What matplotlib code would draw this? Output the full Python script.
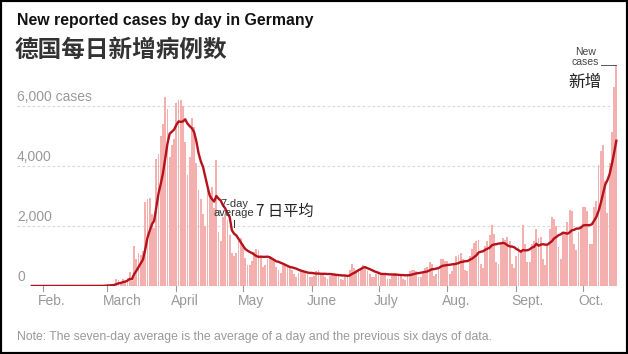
import numpy as np
import pandas as pd
import matplotlib
matplotlib.use('Agg')
import matplotlib.pyplot as plt
import matplotlib.dates as mdates
import matplotlib.transforms as mtransforms
from matplotlib.patches import Rectangle

# daily new cases, Germany, 27 Jan - 16 Oct 2020
start = '2020-01-27'
cases = [
    1, 3, 0, 0, 1, 2, 0,                      # Jan 27 - Feb 2
    0, 2, 0, 0, 1, 0, 0,                      # Feb 3 - 9
    0, 2, 0, 0, 0, 0, 0,                      # Feb 10 - 16
    0, 0, 0, 0, 0, 0, 0,                      # Feb 17 - 23
    0, 0, 11, 19, 2, 31, 51,                  # Feb 24 - Mar 1
    29, 37, 66, 220, 188, 129, 241,           # Mar 2 - 8
    136, 281, 451, 170, 1350, 910, 1100,      # Mar 9 - 15
    1040, 1170, 2800, 2900, 2950, 2400, 1950, # Mar 16 - 22
    4240, 4400, 5000, 5400, 6300, 5900, 4300, # Mar 23 - 29
    4700, 4900, 6100, 6200, 6200, 6000, 4800, # Mar 30 - Apr 5
    3700, 4300, 5600, 5300, 4100, 3200, 2900, # Apr 6 - 12
    2400, 2000, 3400, 3100, 3300, 2600, 4200, # Apr 13 - 19
    1800, 1500, 2300, 2400, 2200, 1700, 1100, # Apr 20 - 26
    1000, 1100, 1500, 1600, 1400, 950, 700,   # Apr 27 - May 3
    700, 850, 1150, 1250, 1200, 1000, 650,    # May 4 - 10
    700, 900, 1000, 950, 900, 650, 550,       # May 11 - 17
    450, 700, 750, 700, 650, 550, 400,        # May 18 - 24
    300, 450, 550, 550, 500, 400, 300,        # May 25 - 31
    300, 350, 500, 550, 450, 400, 300,        # Jun 1 - 7
    250, 350, 450, 450, 400, 350, 250,        # Jun 8 - 14
    200, 350, 350, 550, 750, 600, 550,        # Jun 15 - 21
    550, 600, 700, 650, 500, 400, 300,        # Jun 22 - 28
    300, 400, 500, 450, 450, 400, 250,        # Jun 29 - Jul 5
    250, 400, 450, 450, 400, 350, 250,        # Jul 6 - 12
    200, 400, 500, 550, 550, 500, 300,        # Jul 13 - 19
    300, 500, 600, 650, 800, 750, 350,        # Jul 20 - 26
    400, 650, 900, 900, 850, 850, 400,        # Jul 27 - Aug 2
    500, 700, 1000, 1050, 1100, 900, 550,     # Aug 3 - 9
    500, 1000, 1250, 1450, 1500, 1550, 750,   # Aug 10 - 16
    600, 1350, 1500, 1700, 2050, 1750, 800,   # Aug 17 - 23
    750, 1400, 1600, 1550, 1650, 1500, 750,   # Aug 24 - 30
    600, 1000, 1300, 1200, 2050, 1400, 800,   # Aug 31 - Sep 6
    800, 1400, 1500, 1900, 1600, 1650, 900,   # Sep 7 - 13
    700, 1400, 1900, 2300, 2250, 2000, 1300,  # Sep 14 - 20
    900, 1800, 1800, 2150, 2550, 2500, 1400,  # Sep 21 - 27
    1200, 1800, 2000, 2650, 2650, 2500, 1400, # Sep 28 - Oct 4
    1400, 2650, 2850, 4050, 4500, 4700, 3500, # Oct 5 - 11
    2450, 4100, 5150, 6650, 7350,             # Oct 12 - 16
]

month_starts = ['2020-02-01', '2020-03-01', '2020-04-01', '2020-05-01', '2020-06-01',
                '2020-07-01', '2020-08-01', '2020-09-01', '2020-10-01']
month_names = ['Feb.', 'March', 'April', 'May', 'June', 'July', 'Aug.', 'Sept.', 'Oct.']
ytick_vals = [0, 2000, 4000, 6000]
ytick_labels = ['0', '2,000', '4,000', '6,000 cases']

dates = pd.date_range(start, periods=len(cases), freq='D')
avg = pd.Series(cases).rolling(7, min_periods=1).mean()

W, H = 628, 354
fig = plt.figure(figsize=(W / 100, H / 100), dpi=100)
fig.patch.set_facecolor('white')

# axes: pixel 17..620 horizontally, 40..286 vertically
ax = fig.add_axes([17 / W, (H - 286) / H, 603 / W, 246 / H])
x = mdates.date2num(dates)
feb1 = mdates.date2num(pd.Timestamp('2020-02-01'))
ppd = 540 / 243.0
ax.set_xlim(feb1 - 26 / ppd, feb1 + 577 / ppd)
ax.set_ylim(0, 8200)
ax.axis('off')

def dnum(s):
    return mdates.date2num(pd.Timestamp(s))

for v in ytick_vals[1:]:
    ax.axhline(v, xmin=0, xmax=(612 - 17) / 603, color='#d9d9d9', lw=0.8,
               dashes=(2.5, 2), zorder=0)

ax.bar(x, cases, width=0.85, color='#f4b0ae', linewidth=0, zorder=1)
ax.plot(x, avg, color='#b5121b', lw=1.7, zorder=3, solid_joinstyle='round')

ax.axhline(0, xmin=0, xmax=1, color='#9a9a9a', lw=0.8, zorder=2)

tick_tr = mtransforms.blended_transform_factory(ax.transData, ax.transAxes)
font = 'Liberation Sans'
for d, name in zip(month_starts, month_names):
    xm = dnum(d)
    ax.plot([xm, xm], [0, -5 / 246], color='#9a9a9a', lw=0.8, transform=tick_tr,
            clip_on=False)
    off = mtransforms.ScaledTranslation(-5 / 100, -15 / 100, fig.dpi_scale_trans)
    ax.text(xm, 0, name, transform=tick_tr + off, ha='left', va='center',
            fontsize=10, color='#999999', family=font)

lab_tr = mtransforms.blended_transform_factory(ax.transAxes, ax.transData)
for v, lab in zip(ytick_vals, ytick_labels):
    off = mtransforms.ScaledTranslation(0, 2 / 100, fig.dpi_scale_trans)
    ax.text(0, v, lab, transform=lab_tr + off, ha='left', va='bottom',
            fontsize=10, color='#999999', family=font)

# titles
fig.text(17 / W, 1 - 20 / H, 'New reported cases by day in Germany', ha='left',
         va='center', fontsize=11.4, fontweight='bold', color='#121212', family=font)
fig.text(15 / W, 1 - 50 / H, '德国每日新增病例数', ha='left', va='center',
         fontsize=17, fontweight='bold', color='#333333',
         family=['Noto Sans CJK SC', 'DejaVu Sans'])

# annotations
ax.text(dnum('2020-04-27'), 2250, '7-day\naverage',
        ha='center', va='bottom', fontsize=8, color='#333333', family=font,
        linespacing=0.95)
ax.plot([dnum('2020-04-27')] * 2, [2200, 1970], color='#333333', lw=0.7)
ax.text(dnum('2020-05-07'), 2480, '7 日平均', ha='left',
        va='center', fontsize=11, color='#222222',
        family=['Noto Sans CJK SC', 'DejaVu Sans'])

ax.text(dnum('2020-10-02'), 7300, 'New\ncases', ha='center',
        va='bottom', fontsize=7.5, color='#444444', family=font, linespacing=1.0,
        clip_on=False)
ax.plot([dnum('2020-10-09'), x[-1]], [7370, 7370],
        color='#555555', lw=0.7, clip_on=False)
ax.text(dnum('2020-10-02'), 6770, '新增', ha='center',
        va='center', fontsize=12, color='#222222',
        family=['Noto Sans CJK SC', 'DejaVu Sans'])

fig.text(17 / W, 1 - 337 / H,
         'Note: The seven-day average is the average of a day and the previous six days of data.',
         ha='left', va='center', fontsize=8.8, color='#999999', family=font)

fig.add_artist(Rectangle((0, 0), 1, 1, transform=fig.transFigure, fill=False,
                         ec='black', lw=3))

fig.savefig('out.png', dpi=100, facecolor='white')
